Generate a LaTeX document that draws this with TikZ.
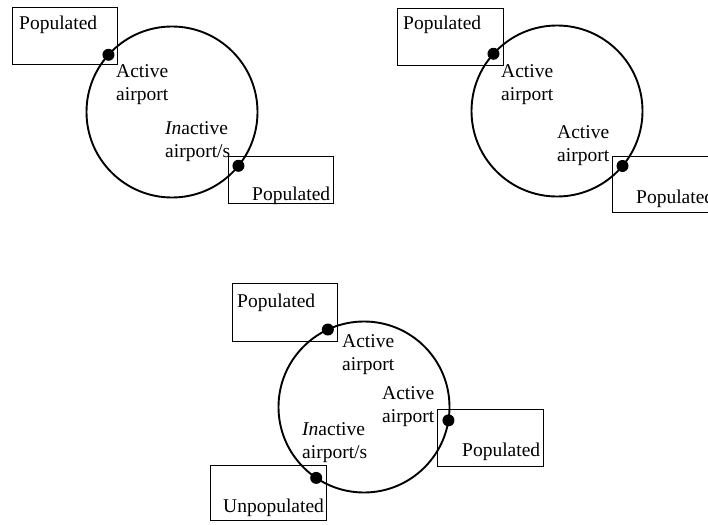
\documentclass[tikz,border=0pt]{standalone}
\usepackage{fontspec}
\setmainfont{Liberation Serif}
\tikzstyle{zone} = [rectangle, draw = black, line width = 0.8pt, inner sep = 0pt]
\tikzstyle{airspace} = [circle, draw = black, line width = 1.9pt, inner sep = 0pt, outer sep = 0pt, minimum size = 171pt]
\tikzstyle{hub} = [circle, fill = black, inner sep = 0pt, minimum size = 12pt]
\tikzstyle{txt} = [inner sep = 0pt, align = left, anchor = base west, font = \fontsize{19.5}{23}\selectfont]

\begin{document}
\begin{tikzpicture}[x = 1pt, y = -1pt]
        \clip (0, 0) rectangle (708, 524);

        \node (P1) at (64.5, 35.5) [zone, minimum width = 105pt, minimum height = 57pt] {};
        \node (P2) at (280.5, 179.5) [zone, minimum width = 105pt, minimum height = 47pt] {};
        \node (C1) at (172, 112) [airspace] {};
        \node (D1) at (C1.138) [hub] {};
        \node (D2) at (C1.-39) [hub] {};
        \node (P1t) at (19, 30) [txt] {Populated};
        \node (P2t) at (252, 200) [txt] {Populated};
        \node (A1t) at (116, 100) [txt] {Active\\airport};
        \node (I1t) at (165, 157) [txt] {\textit{In}active\\airport/s};

        \node (P3) at (450, 36.5) [zone, minimum width = 106pt, minimum height = 57pt] {};
        \node (P4) at (666, 184) [zone, minimum width = 108pt, minimum height = 56pt] {};
        \node (C2) at (557, 111) [airspace] {};
        \node (D3) at (C2.138) [hub] {};
        \node (D4) at (C2.-40) [hub] {};
        \node (P3t) at (403, 30) [txt] {Populated};
        \node (P4t) at (636, 203) [txt] {Populated};
        \node (A2t) at (501, 100) [txt] {Active\\airport};
        \node (A3t) at (557, 161) [txt] {Active\\airport};

        \node (P5) at (284.5, 312) [zone, minimum width = 105pt, minimum height = 58pt] {};
        \node (P6) at (490, 437.5) [zone, minimum width = 106pt, minimum height = 57pt] {};
        \node (U1) at (268, 492.5) [zone, minimum width = 116pt, minimum height = 55pt] {};
        \node (C3) at (364, 407) [airspace] {};
        \node (D5) at (C3.115) [hub] {};
        \node (D6) at (C3.-9) [hub] {};
        \node (D7) at (C3.236) [hub] {};
        \node (P5t) at (237, 307) [txt] {Populated};
        \node (P6t) at (462, 456) [txt] {Populated};
        \node (U1t) at (223, 512) [txt] {Unpopulated};
        \node (A4t) at (342, 370) [txt] {Active\\airport};
        \node (A5t) at (382, 422) [txt] {Active\\airport};
        \node (I2t) at (302, 458) [txt] {\textit{In}active\\airport/s};
    \end{tikzpicture}
\end{document}
